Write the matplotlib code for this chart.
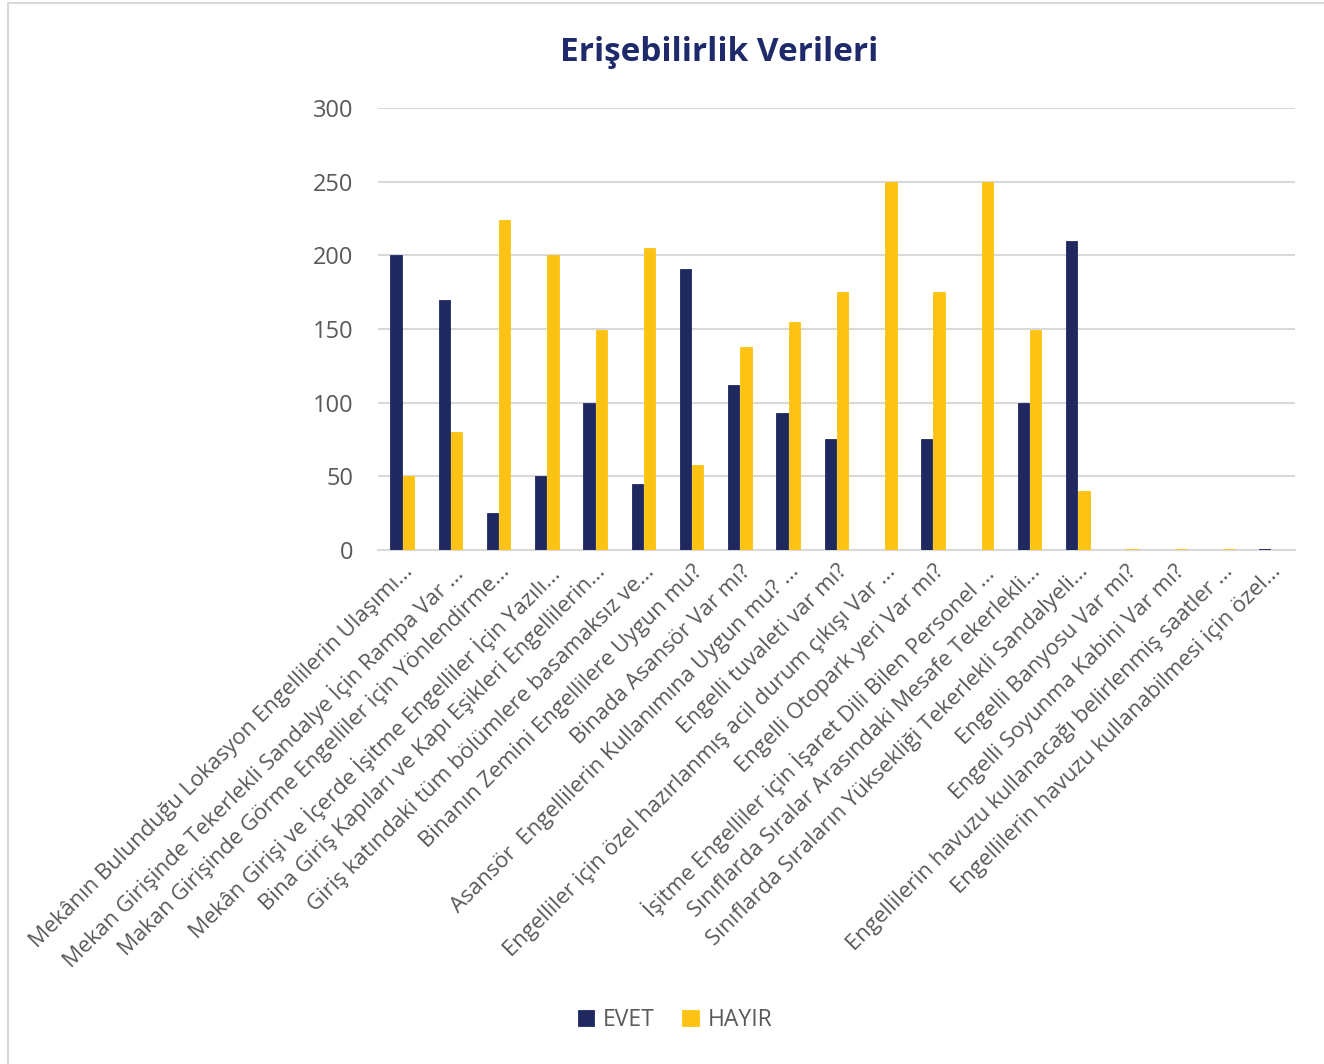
import numpy as np
import matplotlib.pyplot as plt
from matplotlib.patches import Rectangle

plt.rcParams['font.family'] = ['Open Sans', 'DejaVu Sans']

# chart data
sorular = [
    "Mekânın Bulunduğu Lokasyon Engellilerin Ulaşımı...",
    "Mekan Girişinde Tekerlekli Sandalye İçin Rampa Var ...",
    "Makan Girişinde Görme Engelliler için Yönlendirme...",
    "Mekân Girişi ve İçerde İşitme Engelliler İçin Yazılı...",
    "Bina Giriş Kapıları ve Kapı Eşikleri Engellilerin...",
    "Giriş katındaki tüm bölümlere basamaksız ve...",
    "Binanın Zemini Engellilere Uygun mu?",
    "Binada Asansör Var mı?",
    "Asansör  Engellilerin Kullanımına Uygun mu? ...",
    "Engelli tuvaleti var mı?",
    "Engelliler için özel hazırlanmış acil durum çıkışı Var ...",
    "Engelli Otopark yeri Var mı?",
    "İşitme Engelliler için İşaret Dili Bilen Personel ...",
    "Sınıflarda Sıralar Arasındaki Mesafe Tekerlekli...",
    "Sınıflarda Sıraların Yüksekliği Tekerlekli Sandalyeli...",
    "Engelli Banyosu Var mı?",
    "Engelli Soyunma Kabini Var mı?",
    "Engellilerin havuzu kullanacağı belirlenmiş saatler ...",
    "Engellilerin havuzu kullanabilmesi için özel...",
]
evet = [200, 170, 25, 50, 100, 45, 191, 112, 93, 75, 0, 75, 0, 100, 210, 0, 0, 0, 1]
hayir = [50, 80, 224, 200, 149, 205, 58, 138, 155, 175, 250, 175, 250, 149, 40, 1, 1, 1, 0]

navy = "#1F2960"
sari = "#FCC314"
gri = "#595959"

fig = plt.figure(figsize=(13.24, 10.64), dpi=100)
ax = fig.add_axes([0.2855, 0.4831, 0.6925, 0.4154])

x = np.arange(len(sorular))
w = 0.235
ax.bar(x - w / 2 - 0.01, evet, w, color=navy, edgecolor=navy, linewidth=0.6,
       label="EVET", zorder=3)
ax.bar(x + w / 2 + 0.01, hayir, w, color=sari, edgecolor=sari, linewidth=0.6,
       label="HAYIR", zorder=3)

ax.set_xlim(-0.5, len(sorular) - 0.5)
ax.set_ylim(0, 300)
ax.set_yticks(range(0, 301, 50))
ax.tick_params(axis='y', length=0, labelsize=17, labelcolor=gri, pad=18)
ax.set_xticks(x)
ax.set_xticklabels(sorular, rotation=45, ha='right', rotation_mode='anchor',
                   fontsize=16, color=gri)
ax.tick_params(axis='x', length=0, pad=8)
ax.grid(axis='y', color="#D9D9D9", linewidth=1.5, zorder=0)
for s in ['top', 'right', 'left']:
    ax.spines[s].set_visible(False)
ax.spines['bottom'].set_color("#D9D9D9")
ax.spines['bottom'].set_linewidth(1.5)

fig.text(0.543, 0.951, "Erişebilirlik Verileri", ha='center', va='center',
         fontsize=24, fontweight='bold', color="#1F2A6B")

fig.legend(loc='center', bbox_to_anchor=(0.51, 0.041), ncol=2, frameon=False,
           fontsize=16.5, labelcolor=gri, handlelength=0.7, handleheight=0.7,
           handletextpad=0.4, columnspacing=1.2)

# outer chart frame
fig.patches.append(Rectangle((0.006, -0.01), 1.1, 1.007, transform=fig.transFigure,
                             fill=False, edgecolor="#D9D9D9", linewidth=1.5))

fig.savefig("out.png", dpi=100)
